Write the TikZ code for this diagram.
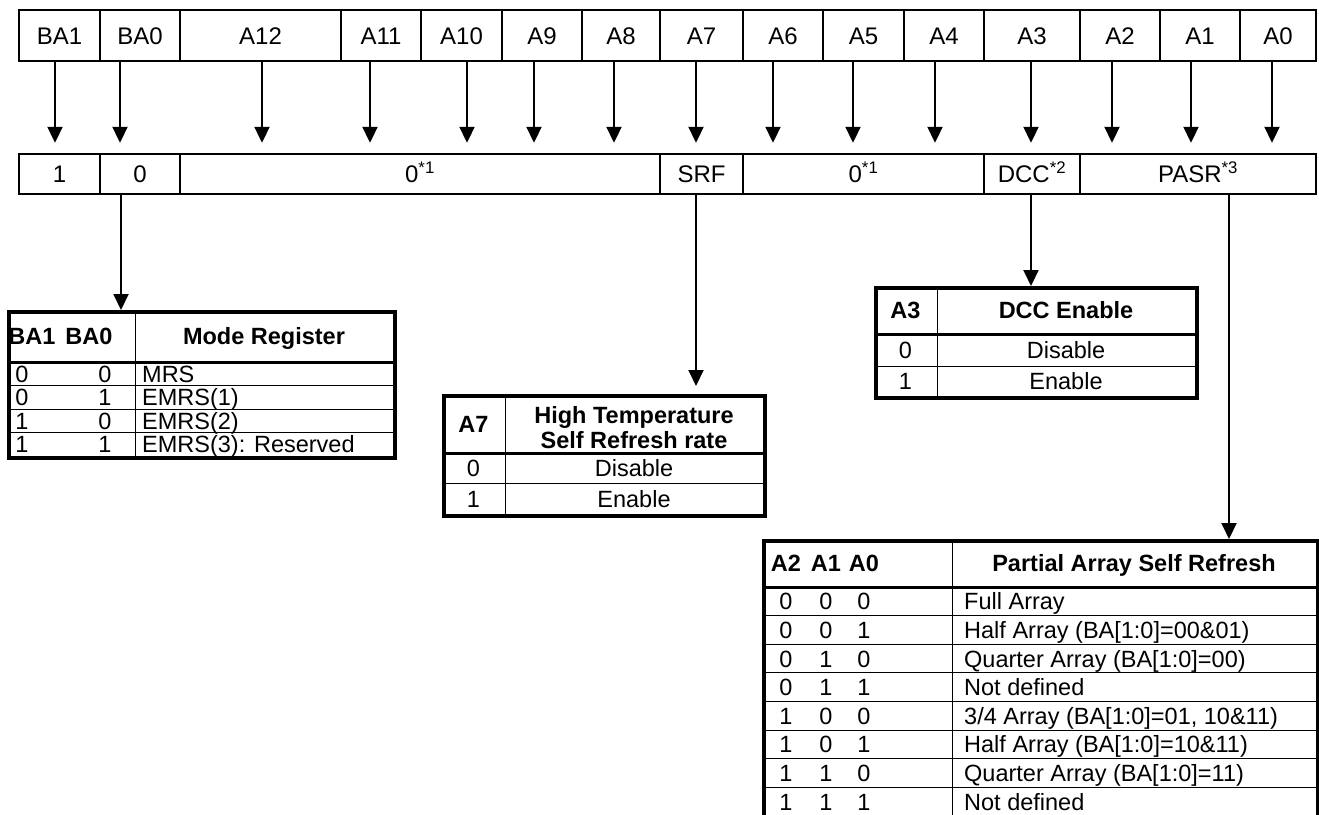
\documentclass[tikz,border=0pt]{standalone}
\usepackage{fontspec}
\setmainfont{Liberation Sans}
\usetikzlibrary{arrows.meta}
\begin{document}
\begin{tikzpicture}[x=1pt,y=-1pt,
  cell/.style={draw, line width=1.6pt, inner sep=0pt, font=\fontsize{24}{26}\selectfont, text height=17pt, text depth=0pt},
  arr/.style={line width=2pt, -{Triangle[width=15pt,length=16pt]}},
  tabframe/.style={draw, line width=3.5pt, inner sep=0pt, anchor=north west},
  hsep/.style={line width=3pt},
  iline/.style={line width=1pt},
  tx/.style={inner sep=0pt, font=\fontsize{23.5}{25}\selectfont, text height=17pt, text depth=0pt},
  bx/.style={tx, font=\fontsize{23.5}{25}\selectfont\bfseries},
  lt/.style={tx, anchor=west},
]
\useasboundingbox (0,0) rectangle (1319,814);

% ---- top row (address bits)
\node[cell, minimum width=81, minimum height=51] (t1)  at (59.5,35.5) {BA1};
\node[cell, minimum width=80, minimum height=51] (t2)  at (140,35.5)  {BA0};
\node[cell, minimum width=161,minimum height=51] (t3)  at (260.5,35.5){A12};
\node[cell, minimum width=80, minimum height=51] (t4)  at (381,35.5)  {A11};
\node[cell, minimum width=81, minimum height=51] (t5)  at (461.5,35.5){A10};
\node[cell, minimum width=80, minimum height=51] (t6)  at (542,35.5)  {A9};
\node[cell, minimum width=78, minimum height=51] (t7)  at (621,35.5)  {A8};
\node[cell, minimum width=83, minimum height=51] (t8)  at (701.5,35.5){A7};
\node[cell, minimum width=80, minimum height=51] (t9)  at (783,35.5)  {A6};
\node[cell, minimum width=81, minimum height=51] (t10) at (863.5,35.5){A5};
\node[cell, minimum width=80, minimum height=51] (t11) at (944,35.5)  {A4};
\node[cell, minimum width=96, minimum height=51] (t12) at (1032,35.5) {A3};
\node[cell, minimum width=80, minimum height=51] (t13) at (1120,35.5) {A2};
\node[cell, minimum width=80, minimum height=51] (t14) at (1200,35.5) {A1};
\node[cell, minimum width=76, minimum height=51] (t15) at (1278,35.5) {A0};

% ---- second row (field values)
\node[cell, minimum width=81, minimum height=40] (r1) at (59.5,174) {1};
\node[cell, minimum width=80, minimum height=40] (r2) at (140,174)  {0};
\node[cell, minimum width=480,minimum height=40] (r3) at (420,174)  {0\textsuperscript{*1}};
\node[cell, minimum width=83, minimum height=40] (r4) at (701.5,174){SRF};
\node[cell, minimum width=241,minimum height=40] (r5) at (863.5,174){0\textsuperscript{*1}};
\node[cell, minimum width=96, minimum height=40] (r6) at (1032,174) {DCC\textsuperscript{*2}};
\node[cell, minimum width=236,minimum height=40] (r7) at (1198,174) {PASR\textsuperscript{*3}};

% ---- arrows from bits to fields
\foreach \n/\dx in {t1/-4.5,t2/-20,t3/1.5,t4/-11,t5/5.5,t6/-8,t7/-7,t8/-5.5,t9/-10,t10/-10.5,t11/-9,t12/-1,t13/-8,t14/-9,t15/-6}
  \draw[arr] ([xshift=\dx pt]\n.south) -- ++(0,81);

% ---- Mode Register table
\node[tabframe, minimum width=386, minimum height=146] (mrtab) at (7,310) {};
\draw[hsep] (mrtab.west |- 0,362) -- (mrtab.east |- 0,362);
\foreach \yy in {385.5,409,432.5} \draw[iline] (mrtab.west |- 0,\yy) -- (mrtab.east |- 0,\yy);
\draw[iline] (mrtab.north -| 135,0) -- (mrtab.south -| 135,0);
\node[bx] (mrh1) at (32,336) {BA1};
\node[bx] (mrh2) at (89,336) {BA0};
\node[bx] (mrh3) at (264,336) {Mode Register};
\foreach \i/\a/\b/\t/\yy in {1/0/0/MRS/373.75, 2/0/1/EMRS(1)/397.25, 3/1/0/EMRS(2)/420.75, 4/1/1/{EMRS(3): Reserved}/444.25}{
  \node[tx] (mra\i) at (22,\yy) {\a};
  \node[tx] (mrb\i) at (105,\yy) {\b};
  \node[lt] (mrc\i) at (142,\yy) {\t};
}
\coordinate (mrin) at (121,310);
\draw[arr] (r2.south -| mrin) -- (mrin);

% ---- A7 table
\node[tabframe, minimum width=321, minimum height=120] (a7tab) at (442,394) {};
\draw[hsep] (a7tab.west |- 0,453) -- (a7tab.east |- 0,453);
\draw[iline] (a7tab.west |- 0,483) -- (a7tab.east |- 0,483);
\draw[iline] (a7tab.north -| 505,0) -- (a7tab.south -| 505,0);
\node[bx] (a7h1) at (473.5,423.5) {A7};
\node[bx] (a7h2) at (634,415) {High Temperature};
\node[bx] (a7h3) at (634,440) {Self Refresh rate};
\node[tx] (a7a1) at (473.5,468) {0};
\node[tx] (a7b1) at (634,468) {Disable};
\node[tx] (a7a2) at (473.5,498.5) {1};
\node[tx] (a7b2) at (634,498.5) {Enable};
\coordinate (srfin) at (696,386);
\draw[arr] (r4.south -| srfin) -- (srfin);

% ---- DCC table
\node[tabframe, minimum width=321, minimum height=110] (dcctab) at (874,286) {};
\draw[hsep] (dcctab.west |- 0,334) -- (dcctab.east |- 0,334);
\draw[iline] (dcctab.west |- 0,366) -- (dcctab.east |- 0,366);
\draw[iline] (dcctab.north -| 937,0) -- (dcctab.south -| 937,0);
\node[bx] (dch1) at (905.5,310) {A3};
\node[bx] (dch2) at (1066,310) {DCC Enable};
\node[tx] (dca1) at (905.5,350) {0};
\node[tx] (dcb1) at (1066,350) {Disable};
\node[tx] (dca2) at (905.5,381) {1};
\node[tx] (dcb2) at (1066,381) {Enable};
\coordinate (dccin) at (1031,286);
\draw[arr] (r6.south -| dccin) -- (dccin);

% ---- PASR table
\node[tabframe, minimum width=554, minimum height=277] (patab) at (762,539) {};
\draw[hsep] (patab.west |- 0,587) -- (patab.east |- 0,587);
\foreach \yy in {615.6,644.2,672.8,701.4,730,758.6,787.2} \draw[iline] (patab.west |- 0,\yy) -- (patab.east |- 0,\yy);
\draw[iline] (patab.north -| 952,0) -- (patab.south -| 952,0);
\node[bx] (pah1) at (786,563) {A2};
\node[bx] (pah2) at (826,563) {A1};
\node[bx] (pah3) at (864,563) {A0};
\node[bx] (pah4) at (1134,563) {Partial Array Self Refresh};
\foreach \i/\a/\b/\c/\t in {0/0/0/0/{Full Array}, 1/0/0/1/{Half Array (BA[1:0]=00\&01)}, 2/0/1/0/{Quarter Array (BA[1:0]=00)}, 3/0/1/1/{Not defined}, 4/1/0/0/{3/4 Array (BA[1:0]=01, 10\&11)}, 5/1/0/1/{Half Array (BA[1:0]=10\&11)}, 6/1/1/0/{Quarter Array (BA[1:0]=11)}, 7/1/1/1/{Not defined}}{
  \pgfmathsetmacro{\yy}{601.3+28.6*\i}
  \node[tx] (paa\i) at (786,\yy) {\a};
  \node[tx] (pab\i) at (826,\yy) {\b};
  \node[tx] (pac\i) at (864,\yy) {\c};
  \node[lt] (pad\i) at (964,\yy) {\t};
}
\coordinate (pasrin) at (1229,539);
\draw[arr] (r7.south -| pasrin) -- (pasrin);
\end{tikzpicture}
\end{document}
